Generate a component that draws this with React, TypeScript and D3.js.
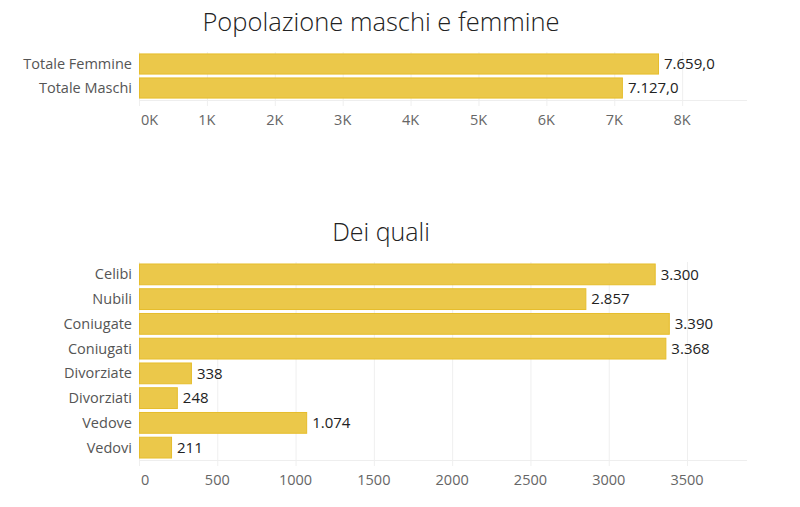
import React, { useRef, useEffect } from "react";
import * as d3 from "d3";

const totCategories = ["Totale Femmine", "Totale Maschi"];
const totValues = [7659, 7127];
const totTicks = [0, 1000, 2000, 3000, 4000, 5000, 6000, 7000, 8000];

const statoCategories = [
  "Celibi",
  "Nubili",
  "Coniugate",
  "Coniugati",
  "Divorziate",
  "Divorziati",
  "Vedove",
  "Vedovi",
];
const statoValues = [3300, 2857, 3390, 3368, 338, 248, 1074, 211];
const statoTicks = [0, 500, 1000, 1500, 2000, 2500, 3000, 3500];

const itLocale = d3.formatLocale({
  decimal: ",",
  thousands: ".",
  grouping: [3],
  currency: ["€", ""],
});

const FONT = "'Open Sans', 'DejaVu Sans', sans-serif";
const BAR_FILL = "#EBC84A";
const BAR_STROKE = "#E6BD2C";

type PanelOpts = {
  title: string;
  titleY: number;
  titleSize: number;
  categories: string[];
  values: number[];
  ticks: number[];
  domainMax: number;
  top: number;
  bottom: number;
  tickFmt: (v: number) => string;
  valueFmt: (v: number) => string;
};

const App: React.FC = () => {
  const svgRef = useRef<SVGSVGElement>(null);

  useEffect(() => {
    if (!svgRef.current) return;
    const width = 800;
    const height = 507;
    const left = 139;
    const right = 747;

    const svg = d3
      .select(svgRef.current)
      .attr("width", width)
      .attr("height", height);
    svg.selectAll("*").remove();

    const drawPanel = (o: PanelOpts) => {
      const g = svg.append("g");

      g.append("text")
        .attr("x", 381)
        .attr("y", o.titleY)
        .attr("text-anchor", "middle")
        .attr("font-family", FONT)
        .attr("font-size", o.titleSize)
        .attr("font-weight", 300)
        .attr("fill", "#222")
        .text(o.title);

      const x = d3.scaleLinear().domain([0, o.domainMax]).range([left, right]);
      const y = d3
        .scaleBand<string>()
        .domain(o.categories)
        .range([o.top, o.bottom])
        .paddingInner(0.12)
        .paddingOuter(0.06);

      // griglia verticale
      g.selectAll("line.grid")
        .data(o.ticks)
        .enter()
        .append("line")
        .attr("x1", (d) => x(d) + 0.5)
        .attr("x2", (d) => x(d) + 0.5)
        .attr("y1", o.top)
        .attr("y2", o.bottom + 6)
        .attr("stroke", "#efefef")
        .attr("stroke-width", 1);

      // linea asse
      g.append("line")
        .attr("x1", left)
        .attr("x2", right)
        .attr("y1", o.bottom + 0.5)
        .attr("y2", o.bottom + 0.5)
        .attr("stroke", "#eeeeee");

      // etichette asse x
      g.selectAll("text.tick")
        .data(o.ticks)
        .enter()
        .append("text")
        .attr("x", (d, i) => (i === 0 ? x(d) + 2 : x(d)))
        .attr("y", o.bottom + 25)
        .attr("text-anchor", (d, i) => (i === 0 ? "start" : "middle"))
        .attr("font-family", FONT)
        .attr("font-size", 14.5)
        .attr("fill", "#666")
        .text((d) => o.tickFmt(d));

      // barre
      g.selectAll("rect.bar")
        .data(o.values)
        .enter()
        .append("rect")
        .attr("x", x(0) + 0.5)
        .attr("y", (d, i) => (y(o.categories[i]) ?? 0) + 0.5)
        .attr("width", (d) => x(d) - x(0) - 1)
        .attr("height", y.bandwidth() - 1)
        .attr("fill", BAR_FILL)
        .attr("stroke", BAR_STROKE)
        .attr("stroke-width", 1);

      // etichette categorie
      g.selectAll("text.cat")
        .data(o.categories)
        .enter()
        .append("text")
        .attr("x", left - 7)
        .attr("y", (d) => (y(d) ?? 0) + y.bandwidth() / 2)
        .attr("dy", "0.35em")
        .attr("text-anchor", "end")
        .attr("font-family", FONT)
        .attr("font-size", 14.5)
        .attr("fill", "#555")
        .text((d) => d);

      // etichette valori
      g.selectAll("text.val")
        .data(o.values)
        .enter()
        .append("text")
        .attr("x", (d) => x(d) + 5)
        .attr("y", (d, i) => (y(o.categories[i]) ?? 0) + y.bandwidth() / 2)
        .attr("dy", "0.35em")
        .attr("font-family", FONT)
        .attr("font-size", 15)
        .attr("fill", "#222")
        .text((d) => o.valueFmt(d));
    };

    drawPanel({
      title: "Popolazione maschi e femmine",
      titleY: 31,
      titleSize: 25.5,
      categories: totCategories,
      values: totValues,
      ticks: totTicks,
      domainMax: 8955,
      top: 52,
      bottom: 100,
      tickFmt: (v) => `${v / 1000}K`,
      valueFmt: (v) => itLocale.format(",.1f")(v),
    });

    drawPanel({
      title: "Dei quali",
      titleY: 241,
      titleSize: 25,
      categories: statoCategories,
      values: statoValues,
      ticks: statoTicks,
      domainMax: 3883,
      top: 262,
      bottom: 460,
      tickFmt: (v) => `${v}`,
      valueFmt: (v) => itLocale.format(",d")(v),
    });
  }, []);

  return (
    <svg
      ref={svgRef}
      style={{ position: "absolute", left: 0, top: 0, background: "#fff" }}
    ></svg>
  );
};

export default App;
